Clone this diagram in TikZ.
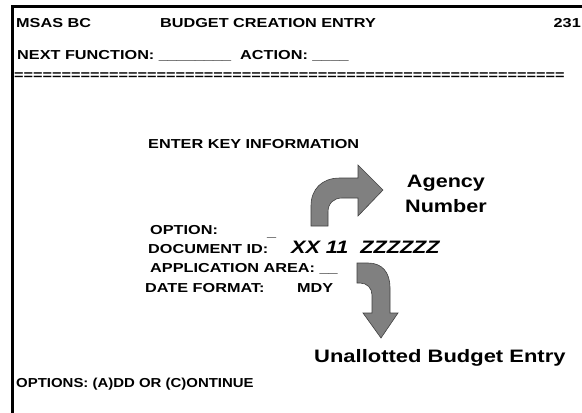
\documentclass[tikz,border=0pt]{standalone}
\usepackage{fontspec}
\setmainfont{Liberation Sans}
% horizontally widened screen lettering
\newcommand{\wide}[2][1.25]{\scalebox{#1}[1]{#2}}
\begin{document}
\begin{tikzpicture}[x=1pt,y=-1pt,
  scr/.style={inner sep=0pt,anchor=base west,font=\bfseries\fontsize{13}{15}\selectfont},
  callout/.style={inner sep=0pt,anchor=base,font=\bfseries\fontsize{18}{20}\selectfont},
  bent/.style={fill=black!50,draw=black!75,line width=0.6pt,line join=miter}]
\useasboundingbox (0,0) rectangle (582,413);
\fill[white] (0,0) rectangle (582,413);
% screen frame
\draw[line width=3pt] (12.5,413) -- (12.5,6.5) -- (582,6.5);
% header
\node[scr] (sys) at (16,27) {\wide{MSAS BC}};
\node[scr,anchor=base] (title) at (268,27) {\wide{BUDGET CREATION ENTRY}};
\node[scr,anchor=base east] (num) at (581,27) {\wide{231}};
\node[scr] (next) at (17,59) {\wide{NEXT FUNCTION: \_\_\_\_\_\_\_\_\ \ ACTION: \_\_\_\_}};
\node[scr] (rule) at (14,79) {\wide{==========================================================}};
% key fields
\node[scr] (enter) at (148,148) {\wide{ENTER KEY INFORMATION}};
\node[scr] (opt) at (150,234) {\wide{OPTION:}};
\node[scr] (optfld) at (267,236) {\wide{\_}};
\node[scr] (doc) at (148,253) {\wide{DOCUMENT ID:}};
\node[scr,font=\bfseries\itshape\fontsize{18}{20}\selectfont] (docid) at (291,253) {\wide[1.2]{XX 11\ \ ZZZZZZ}};
\node[scr] (app) at (150,272) {\wide{APPLICATION AREA: \_\_}};
\node[scr] (date) at (145,292) {\wide{DATE FORMAT:}};
\node[scr] (mdy) at (297,292) {\wide{MDY}};
% callouts
\node[callout] (agency) at (446,187) {\wide[1.2]{Agency}};
\node[callout] (number) at (446,212) {\wide[1.2]{Number}};
\node[callout,anchor=base west] (unal) at (314,362) {\wide[1.22]{Unallotted Budget Entry}};
\node[scr] (opts) at (16,387) {\wide[1.15]{OPTIONS: (A)DD OR (C)ONTINUE}};
% bent arrows
\draw[bent] (311,226) -- (311,206) .. controls (311,189) and (322,178) .. (340,178)
  -- (358,178) -- (358,165) -- (383,190) -- (358,216) -- (358,198) -- (342,198)
  .. controls (334,198) and (328,203) .. (328,212) -- (328,226) -- cycle;
\draw[bent] (357,263) -- (368,263) .. controls (382,263) and (390,272) .. (390,288)
  -- (390,313) -- (398,313) -- (381,338) -- (363,313) -- (372,313) -- (372,295)
  .. controls (372,288) and (367,283) .. (360,283) -- (357,283) -- cycle;
\end{tikzpicture}
\end{document}
